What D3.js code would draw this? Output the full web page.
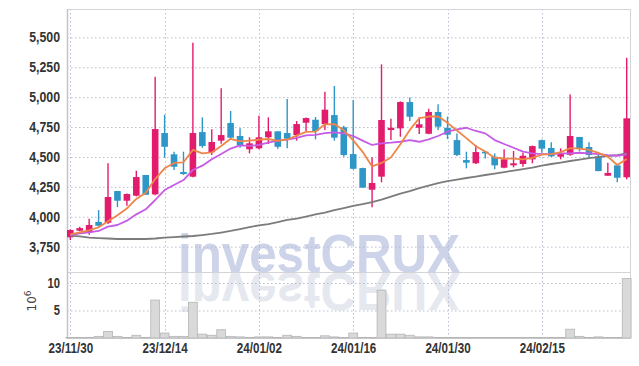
<!DOCTYPE html>
<html><head><meta charset="utf-8">
<script src="https://cdn.jsdelivr.net/npm/d3@7"></script>
<style>body{margin:0;background:#fff;} svg{display:block;}</style>
</head><body>
<svg id="c" width="639" height="366"></svg>
<script>
const dates = ["23/11/30","23/12/01","23/12/04","23/12/05","23/12/06","23/12/07","23/12/08","23/12/11","23/12/12","23/12/13",
"23/12/14","23/12/15","23/12/18","23/12/19","23/12/20","23/12/21","23/12/22","23/12/26","23/12/27","23/12/28",
"24/01/02","24/01/03","24/01/04","24/01/05","24/01/08","24/01/09","24/01/10","24/01/11","24/01/12","24/01/15",
"24/01/16","24/01/17","24/01/18","24/01/19","24/01/22","24/01/23","24/01/24","24/01/25","24/01/26","24/01/29",
"24/01/30","24/01/31","24/02/01","24/02/02","24/02/05","24/02/06","24/02/07","24/02/08","24/02/13","24/02/14",
"24/02/15","24/02/16","24/02/19","24/02/20","24/02/21","24/02/22","24/02/23","24/02/26","24/02/27","24/02/28"];
const open  = [3828,3883,3870,3956,3950,4215,4134,4176,4349,4187, 4700,4522,4374,4335,4708,4539,4636,4784,4675,4564,
               4572,4664,4714,4700,4683,4786,4811,4775,4850,4748, 4524,4407,4226,4335,4725,4739,4959,4744,4694,4876,
               4744,4641,4474,4447,4544,4502,4410,4430,4441,4480, 4641,4575,4502,4518,4667,4583,4505,4343,4430,4330];
const high  = [3895,3917,3983,4056,4447,4215,4195,4385,4350,5171, 4853,4544,4544,5455,4831,4731,5074,4884,4739,4664,
               4845,4831,4714,4984,4800,4830,4834,5045,5093,4760, 4976,4410,4497,5274,4820,4965,4998,4831,4903,4940,
               4836,4697,4544,4600,4550,4530,4564,4550,4535,4595, 4645,4622,4572,5023,4667,4622,4525,4452,4435,5329];
const low   = [3805,3878,3850,3920,3939,4080,4092,4170,4184,4180, 4494,4391,4350,4330,4577,4516,4610,4650,4577,4530,
               4565,4608,4569,4572,4636,4717,4647,4725,4636,4502, 4395,4243,4079,4288,4641,4669,4800,4692,4690,4725,
               4650,4508,4405,4440,4488,4397,4405,4413,4418,4447, 4535,4500,4480,4510,4547,4491,4380,4343,4288,4313];
const close = [3889,3905,3931,3925,4165,4134,4190,4332,4184,4733, 4585,4418,4357,4700,4591,4625,4683,4661,4597,4614,
               4664,4714,4585,4652,4775,4825,4717,4895,4661,4516, 4401,4243,4282,4809,4744,4959,4836,4773,4876,4753,
               4686,4516,4452,4541,4530,4430,4480,4447,4510,4591, 4569,4505,4524,4675,4575,4516,4382,4366,4326,4823];
const volume = [0.1,0.1,0.1,0.3,1.2,0.3,0.1,0.5,0.1,6.9, 0.9,0.3,0.3,6.5,0.7,0.5,1.5,0.3,0.2,0.1,
                0.2,0.2,0.1,0.5,0.3,0.1,0.1,0.4,0.2,0.1, 0.9,0.1,0.1,8.7,0.7,0.7,0.5,0.2,0.2,0.1,
                0.1,0.1,0.1,0.1,0.1,0.1,0.1,0.1,0.1,0.1, 0.1,0.1,0.1,1.6,0.3,0.1,0.2,0.1,0.1,10.8];
const ma5   = [3853,3870,3887,3912,3963,4012,4069,4149,4201,4315, 4405,4450,4455,4559,4530,4538,4591,4652,4631,4636,
               4644,4650,4635,4646,4678,4710,4711,4773,4775,4723, 4638,4543,4421,4450,4496,4607,4726,4824,4838,4839,
               4785,4721,4657,4590,4545,4494,4487,4486,4479,4492, 4519,4524,4540,4573,4570,4559,4534,4503,4433,4483];
const ma20  = [3845,3861,3870,3881,3917,3931,3967,4020,4062,4140, 4223,4265,4307,4391,4427,4480,4524,4570,4597,4592,
               4600,4620,4636,4645,4660,4680,4685,4700,4706,4697, 4675,4636,4600,4614,4619,4627,4641,4627,4647,4675,
               4711,4731,4744,4717,4697,4641,4608,4577,4544,4530, 4524,4524,4530,4530,4535,4530,4524,4516,4510,4522];
const ma120 = [3843,3835,3826,3822,3818,3814,3814,3814,3814,3818, 3826,3830,3835,3839,3847,3856,3868,3881,3897,3914,
               3927,3939,3956,3973,3985,4002,4019,4035,4056,4073, 4090,4106,4123,4144,4169,4194,4215,4240,4261,4282,
               4298,4311,4324,4336,4349,4361,4374,4386,4399,4411, 4428,4441,4453,4466,4478,4491,4499,4508,4516,4529];
const priceTicks = [3750,4000,4250,4500,4750,5000,5250,5500];
const volTicks = [5,10];
const xTickLabels = ["23/11/30","23/12/14","24/01/02","24/01/16","24/01/30","24/02/15"];

const L=67,R=630,T=9,MB=272,VB=338;
const UP="#E31B6D", DOWN="#2F96C8";
const svg=d3.select('#c');
const x=d3.scalePoint().domain(dates).range([L,R]).padding(0.35);
const step=x.step();
const y=d3.scaleLinear().domain([3538,5737]).range([MB,T]);
const yv=d3.scaleLinear().domain([0,12]).range([VB,MB]);
const fontAxis='"Liberation Sans",Arial,sans-serif';

// watermark reflection (use of the text defined just below) and the text itself
svg.append('use').attr('href','#wm').attr('fill','#e6e8f0')
  .attr('transform',`translate(0,${2*MB}) scale(1,-1)`);
const wmg=svg.append('g').attr('fill','#cdd3e8');
wmg.append('text').attr('id','wm').attr('x',178).attr('y',MB-0.5)
  .attr('font-family','"Liberation Sans",Arial,sans-serif').attr('font-weight','bold').attr('font-size',54)
  .attr('textLength',282).attr('lengthAdjust','spacingAndGlyphs').text('investCRUX');

// grid
const grid=svg.append('g').attr('stroke','#b8bdd2').attr('stroke-dasharray','1.5,2.5').attr('stroke-width',1);
grid.selectAll('.gy').data(priceTicks).join('line').attr('x1',L).attr('x2',R).attr('y1',d=>y(d)+0.5).attr('y2',d=>y(d)+0.5);
grid.selectAll('.gv').data(volTicks).join('line').attr('x1',L).attr('x2',R).attr('y1',d=>yv(d)+0.5).attr('y2',d=>yv(d)+0.5);
grid.selectAll('.gx').data(xTickLabels).join('line').attr('x1',d=>Math.round(x(d))+0.5).attr('x2',d=>Math.round(x(d))+0.5).attr('y1',T).attr('y2',VB);

// frames
svg.append('rect').attr('x',L+0.5).attr('y',T+0.5).attr('width',R-L).attr('height',MB-T).attr('fill','none').attr('stroke','#d4d4d8');
svg.append('rect').attr('x',L+0.5).attr('y',MB+0.5).attr('width',R-L).attr('height',VB-MB).attr('fill','none').attr('stroke','#d4d4d8');
svg.append('line').attr('x1',L+0.5).attr('x2',L+0.5).attr('y1',T).attr('y2',VB+1).attr('stroke','#c4c4cc').attr('stroke-width',1.5);

// volume bars
svg.append('g').selectAll('rect').data(volume).join('rect')
  .attr('x',(d,i)=>x(dates[i])-step/2+0.3).attr('width',step-0.6)
  .attr('y',d=>yv(d)).attr('height',d=>VB-yv(d))
  .attr('fill','#d9d9d9').attr('stroke','#b5b5b5').attr('stroke-width',0.8);

// candles
const cg=svg.append('g');
dates.forEach((dt,i)=>{
  const col = close[i]>=open[i]?UP:DOWN;
  const cx=x(dt);
  cg.append('line').attr('x1',cx).attr('x2',cx).attr('y1',y(high[i])).attr('y2',y(low[i])).attr('stroke',col).attr('stroke-width',1.4);
  const top=y(Math.max(open[i],close[i])), bot=y(Math.min(open[i],close[i]));
  cg.append('rect').attr('x',cx-3.3).attr('width',6.6).attr('y',top).attr('height',Math.max(1.5,bot-top)).attr('fill',col);
});

// moving averages
const line=d3.line().x((d,i)=>x(dates[i])).y(d=>y(d));
[[ma120,'#7c7c7c'],[ma20,'#C65BE6'],[ma5,'#EE8648']].forEach(([arr,col])=>{
  svg.append('path').attr('d',line(arr)).attr('fill','none').attr('stroke',col).attr('stroke-width',1.8).attr('stroke-linejoin','round');
});

// axes
const ya=svg.append('g').attr('transform',`translate(${L},0)`).call(d3.axisLeft(y).tickValues(priceTicks).tickSize(0).tickPadding(7).tickFormat(d3.format(',')));
const va=svg.append('g').attr('transform',`translate(${L},0)`).call(d3.axisLeft(yv).tickValues(volTicks).tickSize(0).tickPadding(7).tickFormat(d3.format('d')));
const xa=svg.append('g').attr('transform',`translate(0,${VB})`).call(d3.axisBottom(x).tickValues(xTickLabels).tickSize(0).tickPadding(5));
[[ya,0.88],[va,0.8],[xa,0.83]].forEach(([g,f])=>{
  g.select('.domain').remove();
  g.selectAll('text').attr('font-family',fontAxis).attr('font-weight','bold').attr('font-size',14).attr('fill','#333')
    .each(function(){ const w=this.getComputedTextLength(); d3.select(this).attr('textLength',w*f).attr('lengthAdjust','spacingAndGlyphs'); });
});

// 10^6 label
const ul=svg.append('text').attr('transform','translate(36,301) rotate(-90)').attr('text-anchor','middle')
  .attr('font-family','"DejaVu Sans",sans-serif').attr('font-size',12).attr('fill','#444');
ul.append('tspan').text('10');
ul.append('tspan').attr('dy',-5).attr('font-size',9).text('6');
</script>
</body></html>
